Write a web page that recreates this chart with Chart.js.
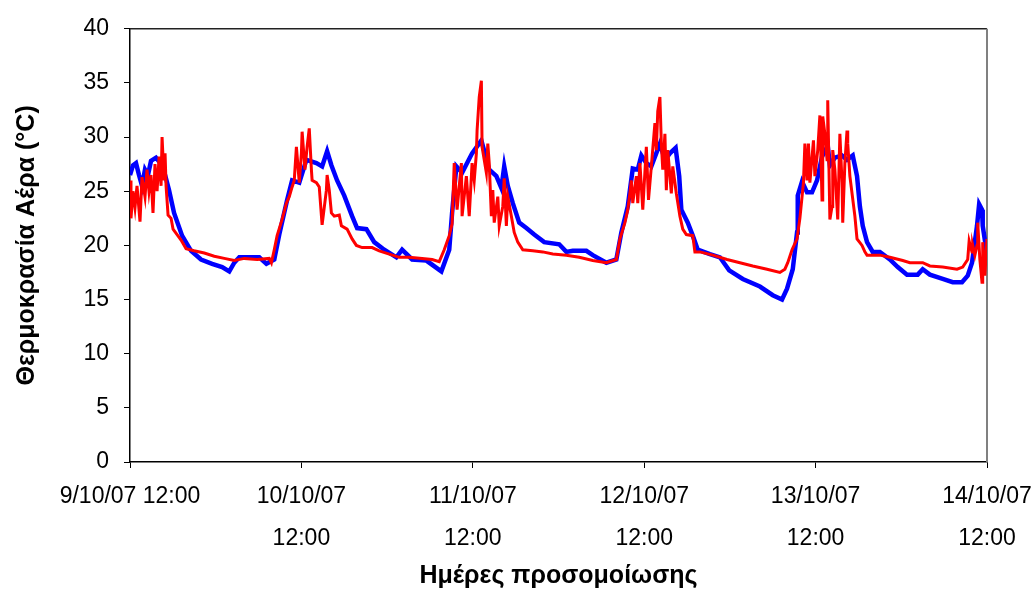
<!DOCTYPE html>
<html>
<head>
<meta charset="utf-8">
<title>Θερμοκρασία Αέρα</title>
<script src="https://cdn.jsdelivr.net/npm/chart.js@4/dist/chart.umd.min.js"></script>
<style>
  html, body { margin: 0; padding: 0; background: #fff; }
  canvas { display: block; }
</style>
</head>
<body>
<canvas id="tempChart" width="1036" height="590"></canvas>
<script>
// hours since 9/10/07 12:00
var xTickLabels = ['9/10/07 12:00', ['10/10/07', '12:00'], ['11/10/07', '12:00'],
  ['12/10/07', '12:00'], ['13/10/07', '12:00'], ['14/10/07', '12:00']];
var yTicks = [0, 5, 10, 15, 20, 25, 30, 35, 40];

// blue series
var blueHours = [0, 0.42, 0.84, 1.26, 1.68, 2.1, 2.52, 2.94, 3.64, 4.35, 4.91, 5.47, 6.17, 7.29, 8.55,
  9.95, 11.5, 12.9, 13.9, 14.6, 15.3, 18.1, 19.1, 20.2, 20.9, 22.0, 22.7, 23.7, 24.7, 26.1,
  26.9, 27.6, 28.2, 29.0, 30.0, 31.1, 31.8, 33.1, 34.2, 35.6, 37.3, 38.1, 39.5, 41.5, 43.6,
  44.7, 45.1, 45.7, 46.5, 47.9, 49.2, 50.3, 51.3, 52.0, 52.4, 52.9, 53.6, 54.5, 55.5, 56.6,
  58.0, 60.1, 61.1, 62.0, 63.9, 64.8, 66.7, 68.1, 68.8, 69.7, 70.4, 71.1, 71.6, 72.3, 73.0,
  74.2, 74.9, 75.6, 76.4, 76.9, 77.2, 78.1, 78.8, 79.5, 81.2, 82.6, 83.9, 85.8, 88.2, 90.0,
  91.3, 92.0, 92.8, 93.4, 93.5, 94.1, 94.8, 95.5, 96.2, 96.9, 97.7, 98.0, 98.7, 99.7, 100.4,
  101.2, 101.8, 102.2, 102.6, 103.2, 104.0, 105.0, 106.4, 107.5, 108.8, 110.3, 111.0, 112.0, 113.8, 115.2,
  116.5, 117.3, 117.9, 118.6, 118.9, 119.3, 119.4, 119.9, 120];
var blueTemps = [26.5, 27.4, 27.6, 26.5, 25.5, 27.0, 26.5, 27.8, 28.1, 27.5, 26.5, 25.1, 23.0, 20.9, 19.5,
  18.7, 18.3, 18.0, 17.6, 18.4, 18.9, 18.9, 18.3, 18.7, 21.0, 24.2, 26.0, 25.8, 27.9, 27.6,
  27.3, 28.7, 27.4, 26.0, 24.6, 22.7, 21.6, 21.5, 20.3, 19.6, 18.9, 19.6, 18.7, 18.6, 17.6,
  19.6, 23.0, 27.3, 26.7, 28.5, 29.7, 27.0, 26.4, 25.3, 27.3, 25.5, 23.9, 22.1, 21.6, 21.0,
  20.3, 20.1, 19.4, 19.5, 19.5, 19.1, 18.4, 18.7, 21.2, 23.6, 27.1, 27.0, 28.3, 27.6, 27.3,
  29.4, 27.9, 28.5, 29.0, 26.4, 23.3, 22.1, 20.9, 19.6, 19.2, 18.9, 17.7, 16.9, 16.2, 15.4,
  15.0, 16.0, 17.8, 21.2, 24.6, 25.9, 24.9, 24.9, 26.0, 28.2, 29.2, 27.4, 28.1, 28.3, 27.9,
  28.3, 26.4, 23.6, 21.8, 20.3, 19.4, 19.4, 18.7, 18.0, 17.3, 17.3, 17.8, 17.3, 16.9, 16.6,
  16.6, 17.2, 18.4, 21.8, 23.8, 23.3, 21.8, 19.6, 20.0];

// red series
var redHours = [0, 0.14, 0.42, 0.7, 0.98, 1.4, 1.68, 2.1, 2.38, 2.66, 2.94, 3.22, 3.5, 3.79, 4.07,
  4.35, 4.49, 4.77, 4.91, 5.05, 5.33, 5.75, 6.03, 6.59, 7.15, 7.85, 8.97, 10.4, 11.8, 13.2,
  14.6, 16.0, 17.8, 19.5, 19.8, 20.2, 20.6, 21.3, 21.9, 22.3, 22.7, 23.0, 23.3, 23.7, 24.0,
  24.1, 24.5, 24.8, 25.1, 25.4, 25.5, 26.1, 26.5, 26.9, 27.5, 27.6, 27.9, 28.2, 28.6, 29.3,
  29.6, 30.4, 31.1, 31.7, 32.5, 33.9, 34.9, 36.3, 37.7, 39.1, 40.9, 42.3, 43.3, 44.0, 44.7,
  45.1, 45.4, 45.8, 46.4, 46.5, 47.1, 47.5, 47.9, 48.2, 48.5, 48.6, 48.9, 49.2, 49.3, 49.9,
  50.1, 50.3, 50.6, 50.8, 51.0, 51.5, 51.7, 52.2, 52.4, 52.7, 52.9, 53.4, 53.8, 54.3, 55.0,
  56.4, 57.8, 59.2, 61.1, 62.9, 64.8, 66.7, 68.1, 68.6, 69.3, 69.7, 70.0, 70.2, 70.4, 70.9,
  71.1, 71.4, 71.8, 72.3, 72.6, 73.0, 73.5, 73.7, 73.9, 74.2, 74.4, 74.6, 74.9, 75.1, 75.3,
  75.8, 76.0, 76.5, 77.0, 77.4, 77.9, 78.8, 79.1, 79.8, 81.6, 83.6, 85.4, 87.2, 89.2, 91.0,
  91.7, 92.1, 92.7, 93.4, 93.8, 94.3, 94.5, 94.8, 95.0, 95.2, 95.7, 95.9, 96.3, 96.6, 96.9,
  97.0, 97.3, 97.6, 97.7, 98.0, 98.3, 98.4, 98.7, 99.1, 99.4, 99.7, 99.8, 100.1, 100.4, 100.5,
  100.8, 101.5, 101.8, 102.5, 102.9, 103.2, 105.0, 106.4, 108.2, 109.2, 111.0, 112.0, 113.8, 115.8, 116.6,
  117.3, 117.5, 117.9, 118.0, 118.3, 118.6, 118.7, 119.0, 119.3, 119.4, 119.7, 120];
var redTemps = [26.0, 22.5, 25.0, 23.5, 25.5, 22.2, 26.3, 24.5, 27.0, 25.0, 26.5, 23.0, 27.5, 25.0, 28.2,
  25.5, 30.0, 26.0, 28.5, 25.5, 22.8, 22.5, 21.5, 21.0, 20.5, 19.7, 19.5, 19.3, 19.0, 18.8,
  18.6, 18.8, 18.7, 18.8, 18.4, 19.6, 20.9, 22.4, 23.9, 24.5, 25.4, 26.0, 29.1, 25.8, 28.5,
  30.5, 27.0, 29.1, 30.8, 27.0, 26.0, 25.8, 25.4, 21.9, 25.1, 26.5, 25.1, 23.0, 22.7, 22.8,
  21.8, 21.5, 20.6, 20.0, 19.8, 19.8, 19.5, 19.2, 18.9, 18.9, 18.8, 18.7, 18.5, 19.6, 20.9,
  22.0, 27.6, 23.3, 27.6, 22.7, 26.4, 22.7, 27.6, 26.0, 28.5, 30.6, 33.7, 35.2, 29.1, 26.7,
  29.4, 27.6, 22.7, 25.1, 22.1, 24.5, 21.8, 23.6, 26.2, 21.8, 24.5, 22.7, 21.2, 20.3, 19.6,
  19.5, 19.4, 19.2, 19.1, 18.9, 18.6, 18.4, 18.7, 20.6, 22.1, 23.3, 24.8, 26.0, 23.9, 26.4,
  23.9, 27.6, 23.3, 29.1, 24.2, 27.3, 31.3, 28.8, 32.4, 33.7, 29.4, 27.0, 30.3, 25.1, 28.8,
  24.8, 27.3, 24.8, 22.7, 21.5, 21.0, 20.9, 19.4, 19.4, 19.1, 18.7, 18.4, 18.1, 17.8, 17.5,
  17.8, 18.4, 19.6, 20.6, 22.5, 25.8, 29.4, 26.0, 29.4, 25.8, 29.7, 26.4, 28.8, 32.0, 24.2,
  31.9, 30.3, 27.9, 33.4, 22.4, 23.6, 28.8, 27.0, 22.4, 30.3, 25.8, 22.1, 27.6, 30.6, 29.4,
  26.4, 22.7, 20.6, 20.0, 19.4, 19.1, 19.1, 18.9, 18.6, 18.4, 18.4, 18.1, 18.0, 17.8, 18.0,
  18.7, 20.4, 19.4, 20.0, 19.1, 20.0, 22.1, 18.7, 16.6, 20.3, 17.2, 20.6];

function toPoints(xs, ys) {
  return xs.map(function (h, i) { return { x: h, y: ys[i] }; });
}

var fontFamily = '"Liberation Sans", Arial, sans-serif';

// top and right edges of the plot box
var plotFrame = {
  id: 'plotFrame',
  beforeDatasetsDraw: function (chart) {
    var ctx = chart.ctx, a = chart.chartArea;
    ctx.save();
    ctx.strokeStyle = '#222';
    ctx.lineWidth = 1.5;
    ctx.beginPath();
    ctx.moveTo(a.left, a.top);
    ctx.lineTo(a.right, a.top);
    ctx.stroke();
    ctx.strokeStyle = '#808080';
    ctx.lineWidth = 2;
    ctx.beginPath();
    ctx.moveTo(a.right, a.top);
    ctx.lineTo(a.right, a.bottom);
    ctx.stroke();
    ctx.restore();
  }
};

var ctx = document.getElementById('tempChart').getContext('2d');
var chart = new Chart(ctx, {
  type: 'scatter',
  data: {
    datasets: [{
      label: 'red',
      data: toPoints(redHours, redTemps),
      showLine: true,
      borderColor: '#ff0000',
      backgroundColor: '#ff0000',
      borderWidth: 3,
      pointRadius: 0,
      tension: 0,
      order: 0
    }, {
      label: 'blue',
      data: toPoints(blueHours, blueTemps),
      showLine: true,
      borderColor: '#0000ff',
      backgroundColor: '#0000ff',
      borderWidth: 4.5,
      pointRadius: 0,
      tension: 0,
      order: 1
    }]
  },
  options: {
    responsive: false,
    animation: false,
    layout: {
      padding: { top: 24, right: 49, bottom: 0, left: 0 }
    },
    plugins: {
      legend: { display: false },
      tooltip: { enabled: false }
    },
    scales: {
      x: {
        type: 'linear',
        min: 0,
        max: 120,
        afterFit: function (scale) {
          scale.height = 128;
          // keep the end labels from squeezing the plot box
          scale.paddingLeft = 0;
          scale.paddingRight = 0;
        },
        afterBuildTicks: function (scale) {
          scale.ticks = xTickLabels.map(function (l, i) { return { value: i * 24 }; });
        },
        ticks: {
          autoSkip: false,
          maxRotation: 0,
          padding: 8,
          color: '#000',
          font: { family: fontFamily, size: 23, lineHeight: 1.83 },
          callback: function (value) { return xTickLabels[Math.round(value / 24)]; }
        },
        grid: {
          drawOnChartArea: false,
          drawTicks: true,
          tickLength: 6,
          color: '#000',
          lineWidth: 1
        },
        border: { display: true, color: '#000', width: 1.5 },
        title: {
          display: true,
          text: 'Ημέρες προσομοίωσης',
          color: '#000',
          font: { family: fontFamily, size: 25, weight: 'bold', lineHeight: 1.1 },
          padding: { top: 0, bottom: 0 }
        }
      },
      y: {
        min: 0,
        max: 40,
        afterFit: function (scale) { scale.width = 130; },
        afterBuildTicks: function (scale) {
          scale.ticks = yTicks.map(function (v) { return { value: v }; });
        },
        ticks: {
          padding: 15,
          color: '#000',
          font: { family: fontFamily, size: 23 }
        },
        grid: {
          drawOnChartArea: false,
          drawTicks: true,
          tickLength: 6,
          color: '#000',
          lineWidth: 1
        },
        border: { display: true, color: '#000', width: 1.5 },
        title: {
          display: true,
          text: 'Θερμοκρασία Αέρα (°C)',
          color: '#000',
          font: { family: fontFamily, size: 25, weight: 'bold', lineHeight: 1.1 },
          padding: { top: 13, bottom: 0 }
        }
      }
    }
  },
  plugins: [plotFrame]
});
</script>
</body>
</html>
